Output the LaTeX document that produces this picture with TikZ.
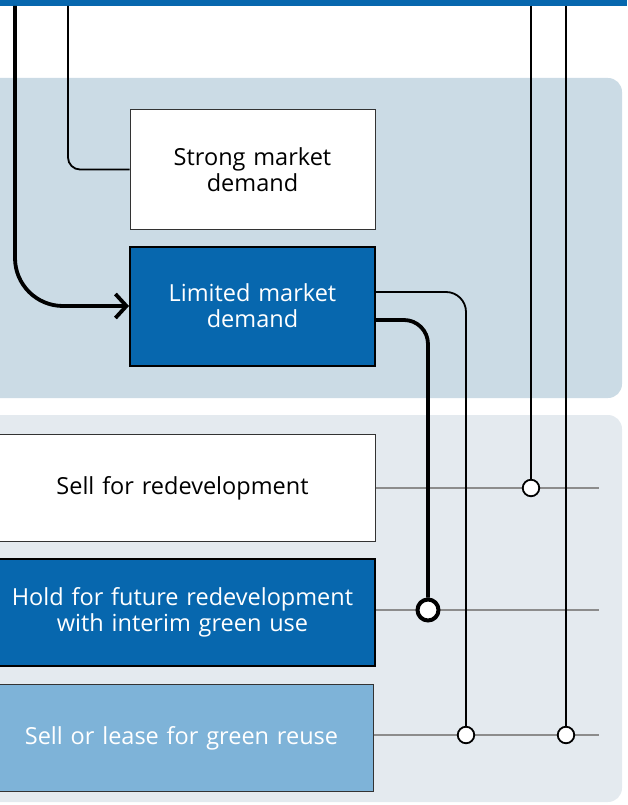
\documentclass[tikz,border=0pt]{standalone}
\usepackage{fontspec}
\setmainfont{Open Sans}
\usepackage{tikz}
\usetikzlibrary{arrows.meta}
\definecolor{darkblue}{HTML}{0767AE}
\definecolor{lightblue}{HTML}{7EB3D8}
\definecolor{upperpanel}{HTML}{CBDBE5}
\definecolor{lowerpanel}{HTML}{E4EAEF}
\tikzstyle{box} = [rectangle, minimum width=245pt, minimum height=119pt, text width=230pt, align=center, draw=black!80, line width=1pt, fill=white, font=\fontsize{23.5}{26}\selectfont]
\tikzstyle{darkbox} = [box, fill=darkblue, text=white, draw=black, line width=2pt]
\tikzstyle{lightbox} = [box, fill=lightblue, text=white]
\tikzstyle{wide} = [minimum width=385pt, minimum height=107pt, text width=370pt]
\tikzstyle{thin} = [line width=1.8pt, rounded corners=12pt]
\tikzstyle{thickline} = [line width=3.8pt, rounded corners=24pt]
\tikzstyle{rail} = [line width=2pt, draw=black!45]
\tikzstyle{dot} = [circle, draw=black, fill=white, line width=1.8pt, minimum size=16.5pt, inner sep=0pt]
\tikzstyle{bigdot} = [dot, line width=4pt, minimum size=21pt]

\begin{document}
\begin{tikzpicture}[x=1pt, y=-1pt]
	\useasboundingbox (0,0) rectangle (627,805);
	% panels
	\fill[upperpanel, rounded corners=14pt] (-20,78) rectangle (622,398);
	\fill[lowerpanel, rounded corners=14pt] (-20,415) rectangle (622,802);
	\fill[darkblue] (0,0) rectangle (627,6);

	\node (strong) [box] at (252.5,169.5) {Strong market\\demand};
	\node (limited) [darkbox] at (252.5,306) {Limited market\\demand};
	\node (sell) [box, wide] at (182.5,488) {Sell for redevelopment};
	\node (hold) [darkbox, wide] at (182.5,612.5) {Hold for future redevelopment\\with interim green use};
	\node (lease) [lightbox, wide, minimum width=383pt] at (181.5,738) {Sell or lease for green reuse};

	% free ends
	\coordinate (top1) at (15,6);
	\coordinate (top2) at (68,6);
	\coordinate (top3) at (531,6);
	\coordinate (top4) at (566,6);
	\coordinate (end1) at (599,488);
	\coordinate (end2) at (599,610);
	\coordinate (end3) at (599,735);

	% rails
	\draw [rail] (sell.east |- end1) -- (end1);
	\draw [rail] (hold.east |- end2) -- (end2);
	\draw [rail] (lease.east |- end3) -- (end3);

	\node (c1) [dot] at (531,488) {};
	\node (c2) [bigdot] at (428,610) {};
	\node (c3) [dot] at (466,735) {};
	\node (c4) [dot] at (566,735) {};

	\draw [thickline, rounded corners=48pt, -{Straight Barb[length=11pt, width=24pt]}] (top1) |- (limited.west);
	\draw [thin] (top2) |- (strong.west);
	\draw [thin, rounded corners=20pt] (limited.east |- 0,292) -| (c3);
	\draw [thickline] (limited.east |- 0,320) -| (c2);
	\draw [thin] (top3) -- (c1);
	\draw [thin] (top4) -- (c4);
\end{tikzpicture}
\end{document}
